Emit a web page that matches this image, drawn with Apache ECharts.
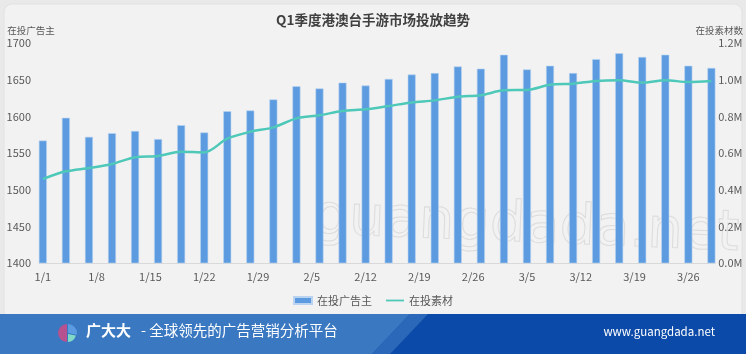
<!DOCTYPE html>
<html lang="zh">
<head>
    <meta charset="UTF-8">
    <title>index</title>
    <script src="https://cdn.jsdelivr.net/npm/echarts@6/dist/echarts.min.js"></script>
    <style>
        html, body { margin: 0; padding: 0; background: #e9e9e9; }
        #chart { width: 746px; height: 354px; }
    </style>
</head>
<body>
<div id="chart"></div>
<script>
    // 日期类目：1/1 ~ 3/29（每日一格，数据每3天一个）
    var monthDays = [31, 28, 31];
    var dayCount = 88;
    var step = 3;

    // 在投广告主（左轴）
    var advertisers = [1567, 1598, 1572, 1577, 1580, 1569, 1588, 1578, 1607, 1608,
                       1623, 1641, 1638, 1646, 1642, 1651, 1657, 1659, 1668, 1665,
                       1684, 1664, 1669, 1659, 1678, 1686, 1681, 1684, 1669, 1666];
    // 在投素材数（右轴）
    var creatives = [458000, 500000, 518000, 540000, 577000, 584000, 607000, 603000, 678000, 716000,
                     740000, 789000, 806000, 829000, 838000, 856000, 876000, 887000, 907000, 915000,
                     942000, 944000, 972000, 978000, 993000, 997000, 984000, 997000, 987000, 993000];

    var categories = [];
    (function () {
        var m = 0, d = 1;
        for (var i = 0; i < dayCount; i++) {
            categories.push((m + 1) + '/' + d);
            d++;
            if (d > monthDays[m]) { d = 1; m++; }
        }
    })();

    function spread(arr) {
        var out = [];
        for (var i = 0; i < dayCount; i++) {
            out.push(i % step === 0 ? arr[i / step] : null);
        }
        return out;
    }

    var font = '"Noto Sans CJK SC", "Noto Sans", sans-serif';
    var my_Chart = echarts.init(document.getElementById('chart'));

    var option = {
        backgroundColor: '#e9e9e9',
        textStyle: { fontFamily: font },
        title: {
            text: 'Q1季度港澳台手游市场投放趋势',
            left: 'center',
            top: 8,
            textStyle: { fontSize: 13.5, fontWeight: 'bold', color: '#404040', fontFamily: font }
        },
        legend: {
            top: 290,
            left: 'center',
            itemWidth: 18,
            itemHeight: 7,
            itemGap: 14,
            textStyle: { fontSize: 11, color: '#595959' },
            data: [
                { name: '在投广告主', icon: 'rect' },
                { name: '在投素材', icon: 'path://M0,0 H20 V2 H0 Z' }
            ]
        },
        grid: {
            left: 39,
            right: 30,
            top: 43,
            bottom: 91
        },
        xAxis: {
            type: 'category',
            data: categories,
            boundaryGap: true,
            axisLine: { lineStyle: { color: '#d9d9d9' } },
            axisTick: { show: false },
            axisLabel: { interval: 6, color: '#595959', fontSize: 11, margin: 8 }
        },
        yAxis: [{
            type: 'value',
            name: '在投广告主',
            nameGap: 8,
            nameTextStyle: { color: '#595959', fontSize: 9.5, padding: [0, 16, 0, 0] },
            min: 1400,
            max: 1700,
            interval: 50,
            axisLine: { show: false },
            axisTick: { show: false },
            splitLine: { show: false },
            axisLabel: {
                color: '#595959', fontSize: 11, margin: 8,
                formatter: function (v) { return String(v); }
            }
        }, {
            type: 'value',
            name: '在投素材数',
            nameGap: 8,
            nameTextStyle: { color: '#595959', fontSize: 9.5, padding: [0, 0, 0, 8] },
            min: 0,
            max: 1200000,
            interval: 200000,
            axisLine: { show: false },
            axisTick: { show: false },
            splitLine: { show: false },
            axisLabel: {
                color: '#595959', fontSize: 11, margin: 3,
                formatter: function (v) { return (v / 1000000).toFixed(1) + 'M'; }
            }
        }],
        graphic: [
            {
                type: 'rect', silent: true, z: -10,
                shape: { x: 4, y: 4, width: 738, height: 320, r: 8 },
                style: { fill: '#f2f2f2', stroke: '#e2e2e2' }
            },
            {
                type: 'text', silent: true, z: 0,
                left: 312, top: 190, rotation: -0.04,
                style: {
                    text: 'guangdada.net',
                    font: '56px "DejaVu Sans", sans-serif',
                    fill: 'rgba(0,0,0,0)',
                    stroke: 'rgba(205,205,205,0.6)',
                    lineWidth: 1
                }
            },
            {
                type: 'rect', silent: true, z: 10,
                shape: { x: 0, y: 314, width: 746, height: 40 },
                style: { fill: '#0b4aa8' }
            },
            {
                type: 'polygon', silent: true, z: 11,
                shape: { points: [[0, 314], [410, 314], [372, 354], [0, 354]] },
                style: { fill: '#3a78c1' }
            },
            {
                type: 'polygon', silent: true, z: 11,
                shape: { points: [[410, 314], [428, 314], [390, 354], [372, 354]] },
                style: { fill: '#2c68b9' }
            },
            {
                type: 'sector', silent: true, z: 12,
                shape: { cx: 67, cy: 333, r: 9, r0: 0, startAngle: Math.PI / 2, endAngle: Math.PI * 1.5 },
                style: { fill: '#b5528f' }
            },
            {
                type: 'sector', silent: true, z: 12,
                shape: { cx: 68, cy: 333, r: 9, r0: 0, startAngle: -Math.PI / 2, endAngle: 0.2 },
                style: { fill: '#5a9be2' }
            },
            {
                type: 'sector', silent: true, z: 12,
                shape: { cx: 68, cy: 334, r: 8, r0: 0, startAngle: 0.2, endAngle: Math.PI / 2 },
                style: { fill: '#7fd9c6' }
            },
            {
                type: 'text', silent: true, z: 12,
                left: 86, top: 323,
                style: { text: '广大大', fill: '#ffffff', font: 'bold 15px ' + font }
            },
            {
                type: 'text', silent: true, z: 12,
                left: 141, top: 323,
                style: { text: '- 全球领先的广告营销分析平台', fill: '#ffffff', font: '14.5px ' + font }
            },
            {
                type: 'text', silent: true, z: 12,
                right: 31, top: 326,
                style: { text: 'www.guangdada.net', fill: '#ffffff', font: '11.5px ' + font }
            }
        ],
        series: [
            {
                name: '在投广告主',
                type: 'bar',
                yAxisIndex: 0,
                barWidth: 8,
                itemStyle: { color: '#5c9be0', borderColor: '#b9d3f0', borderWidth: 0.6 },
                data: spread(advertisers)
            },
            {
                name: '在投素材',
                type: 'line',
                yAxisIndex: 1,
                symbol: 'none',
                smooth: 0.3,
                connectNulls: true,
                lineStyle: { color: '#4ec8b9', width: 2.5 },
                itemStyle: { color: '#4ec8b9' },
                data: spread(creatives)
            }
        ]
    };
    my_Chart.setOption(option);
</script>
</body>
</html>
